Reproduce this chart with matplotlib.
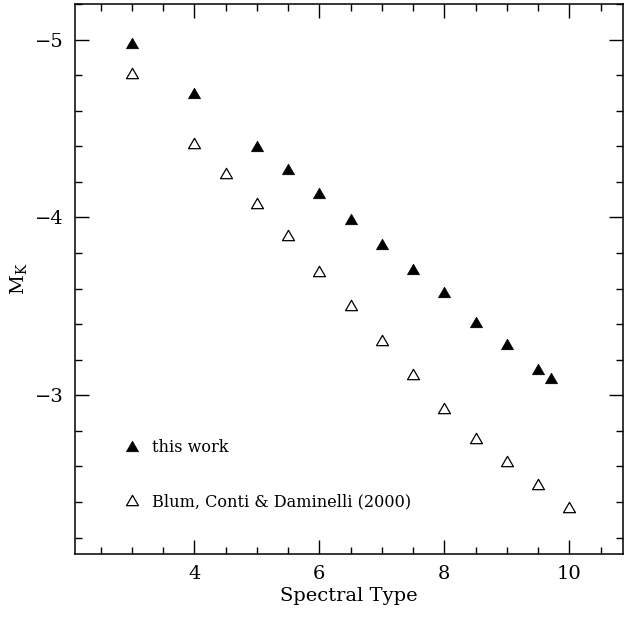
import matplotlib
matplotlib.use("Agg")
import matplotlib.pyplot as plt
from matplotlib.lines import Line2D
from matplotlib.path import Path

# Data
this_work_sp = [3, 4, 5, 5.5, 6, 6.5, 7, 7.5, 8, 8.5, 9, 9.5, 9.7]
this_work_mk = [-4.98, -4.70, -4.40, -4.275, -4.14, -3.99, -3.85, -3.71, -3.58, -3.41, -3.29, -3.15, -3.10]

blum_sp = [3, 4, 4.5, 5, 5.5, 6, 6.5, 7, 7.5, 8, 8.5, 9, 9.5, 10]
blum_mk = [-4.81, -4.42, -4.25, -4.08, -3.90, -3.70, -3.51, -3.31, -3.12, -2.93, -2.76, -2.63, -2.50, -2.37]

labels = ["this work", "Blum, Conti & Daminelli (2000)"]
xticks = [4, 6, 8, 10]
yticks = [-5, -4, -3]

plt.rcParams['font.family'] = ['DejaVu Serif']
plt.rcParams['mathtext.fontset'] = 'dejavuserif'

fig = plt.figure(figsize=(6.24, 6.17), dpi=100)
ax = fig.add_axes([75/624, 63/617, 548/624, 550/617])

tri = Path([(-1, -0.866), (1, -0.866), (0, 0.866), (-1, -0.866)],
           [Path.MOVETO, Path.LINETO, Path.LINETO, Path.CLOSEPOLY])
ms = 8.6

filled_style = dict(linestyle='none', marker=tri, markersize=ms,
                    markerfacecolor='black', markeredgecolor='black', markeredgewidth=0.6)
open_style = dict(linestyle='none', marker=tri, markersize=ms,
                  markerfacecolor='white', markeredgecolor='black', markeredgewidth=0.9)

ax.plot(this_work_sp, this_work_mk, **filled_style)
ax.plot(blum_sp, blum_mk, **open_style)

ax.set_xlim(2.09, 10.86)
ax.set_ylim(-2.108, -5.192)

ax.set_xticks(xticks)
ax.set_yticks(yticks)
ax.set_yticklabels([f"\u2212{abs(v)}" for v in yticks])
ax.set_xticks([x / 2 for x in range(5, 22)], minor=True)
ax.set_yticks([-5.2 + 0.2 * i for i in range(16)], minor=True)

ax.tick_params(which='both', direction='in', top=True, right=True, width=1)
ax.tick_params(which='major', length=10, labelsize=14, pad=8)
ax.tick_params(which='minor', length=5)
for s in ax.spines.values():
    s.set_linewidth(1.1)

ax.set_xlabel("Spectral Type", fontsize=14, labelpad=3)
ax.set_ylabel(r"M$_{\rm K}$", fontsize=14, labelpad=4)

handles = [Line2D([], [], **filled_style), Line2D([], [], **open_style)]
leg = ax.legend(handles, labels, loc='lower left', bbox_to_anchor=(0.089, 0.08),
                frameon=False, fontsize=11.6, labelspacing=2.32,
                handlelength=1.0, handletextpad=0.74, borderpad=0, borderaxespad=0)

fig.savefig("out.png", dpi=100)
